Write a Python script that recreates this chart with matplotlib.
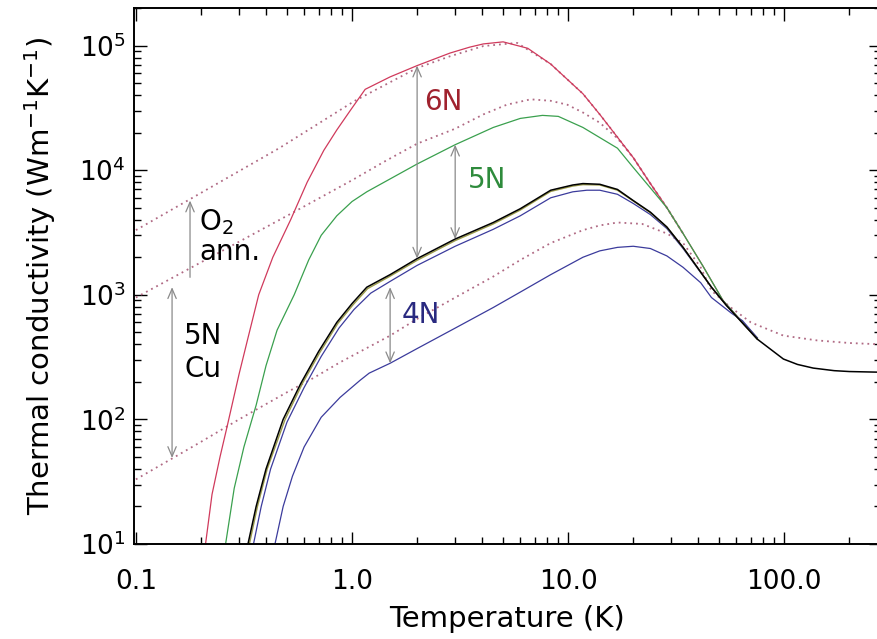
import numpy as np
import matplotlib.pyplot as plt
from matplotlib.ticker import FixedLocator, FixedFormatter, LogLocator, NullFormatter

# temperature (K) and thermal conductivity (W/m/K)

# 6N copper, solid red
T_6n = [0.21, 0.225, 0.245, 0.264, 0.30, 0.33, 0.37, 0.43, 0.52, 0.62, 0.74, 0.85, 0.98, 1.15,
        1.5, 2.0, 2.84, 3.5, 4.05, 5.0, 6.5, 8.3, 11.7, 14, 20, 24, 28.6, 34, 42, 52, 62, 75]
k_6n = [10, 25, 50, 87, 230, 450, 1000, 2000, 4000, 8000, 14400, 21000, 30000, 44500,
        56000, 69000, 87000, 97000, 103000, 107000, 95000, 71000, 41000, 28000, 12600, 7800, 5000, 3100, 1700, 900, 640, 450]

# 5N copper, solid green
T_5n = [0.26, 0.285, 0.316, 0.36, 0.40, 0.45, 0.54, 0.63, 0.72, 0.85, 1.0, 1.17,
        2.0, 3.0, 4.5, 6.0, 7.6, 9.0, 11.7, 16.9, 20, 24, 28.6, 34, 42, 52, 62, 75]
k_5n = [10, 28, 60, 130, 270, 520, 1000, 1900, 3000, 4300, 5600, 6700,
        11200, 16000, 22000, 26000, 27500, 27000, 22000, 15000, 10500, 7200, 5000, 3100, 1700, 900, 640, 450]

# 5N Cu reference, solid black (continues to room temperature)
T_ref = [0.33, 0.36, 0.40, 0.48, 0.58, 0.70, 0.85, 1.0, 1.17, 1.5, 2.0, 3.0, 4.5, 6.0, 8.3,
         10.5, 11.7, 14, 16.9, 20, 24, 28.6, 34, 46, 54, 75, 99, 115, 136, 170, 200, 280]
k_ref = [10, 20, 40, 100, 195, 350, 600, 850, 1150, 1450, 1950, 2800, 3800, 4900, 6900,
         7600, 7800, 7700, 7000, 5700, 4600, 3500, 2400, 1150, 820, 440, 305, 276, 258, 246, 242, 239]

# companion curve just under the black one, olive
T_olv = [0.335, 0.365, 0.405, 0.49, 0.59, 0.71, 0.86, 1.01, 1.18, 1.5, 2.0, 3.0, 4.5, 6.0, 8.3,
         10.5, 11.7, 14, 16.9, 20, 24, 28.6, 34, 46, 54, 75]
k_olv = [10, 20, 40, 100, 195, 345, 590, 830, 1120, 1410, 1890, 2720, 3700, 4780, 6750,
         7450, 7650, 7600, 6900, 5650, 4550, 3480, 2400, 1150, 820, 440]

# upper blue, just below the black one
T_b1 = [0.35, 0.38, 0.42, 0.50, 0.60, 0.72, 0.87, 1.02, 1.22, 1.5, 2.0, 3.0, 4.5, 6.0, 8.3,
        10.5, 12.2, 14, 16.9, 20, 24, 28.6, 34, 46, 54, 75]
k_b1 = [10, 20, 40, 95, 180, 320, 540, 760, 1030, 1280, 1720, 2450, 3350, 4300, 6000,
        6700, 6900, 6900, 6400, 5400, 4400, 3400, 2350, 1150, 820, 440]

# 4N copper, solid blue
T_4n = [0.44, 0.48, 0.53, 0.60, 0.72, 0.88, 1.09, 1.2, 1.5, 2.0, 3.0, 4.5, 6.0, 8.3,
        11.7, 14, 16.9, 20, 24, 28.6, 34, 41, 46, 57, 64, 75]
k_4n = [10, 20, 35, 60, 104, 150, 206, 235, 282, 370, 540, 790, 1050, 1450,
        2000, 2250, 2400, 2450, 2350, 2050, 1660, 1250, 950, 710, 620, 450]

# O2 annealed curves, dotted
T_ann6 = [0.1, 0.46, 1.03, 2.0, 2.84, 4.05, 5.8, 8.3, 11.7, 14, 20, 24, 28.6, 34]
k_ann6 = [3300, 15000, 36000, 66000, 82000, 99000, 105000, 71000, 41000, 28000, 12600, 7800, 5000, 3100]

T_ann5 = [0.1, 0.5, 1.0, 1.41, 2.0, 3.0, 4.05, 5.2, 6.7, 8.3, 9.9, 11.7, 14, 16.9, 20, 24, 28.6, 34]
k_ann5 = [950, 4300, 8300, 11700, 16300, 21500, 28000, 33500, 37000, 36000, 33500, 29000, 24000, 18000, 12600, 7800, 5000, 3100]

T_ann4 = [0.1, 0.2, 0.3, 0.5, 0.66, 0.88, 1.5, 2.0, 3.0, 4.5, 6.0, 8.3, 11.7, 14, 16.9, 22,
          28.6, 34, 41, 46, 56, 70, 99, 142, 200, 280]
k_ann4 = [33, 66, 100, 165, 214, 287, 470, 640, 950, 1400, 1900, 2600, 3300, 3600, 3800, 3700,
          3100, 2600, 1660, 1080, 800, 600, 470, 430, 410, 400]

# arrows: (T, k_start, k_end)
arrows = [(2.0, 69000, 1950), (3.0, 16000, 2800), (1.5, 1150, 282), (0.147, 1150, 49)]
o2_arrow = (0.178, 1380, 5700)

x_ticks = [0.1, 1.0, 10.0, 100.0]
x_tick_labels = ['0.1', '1.0', '10.0', '100.0']

red = '#d03a5c'
green = '#3aa04e'
blue = '#3b3b9c'
dotc = '#b06a84'
grey = '#8a8a8a'

fig = plt.figure(figsize=(8.78, 6.39), dpi=100)
ax = fig.add_axes([134 / 878, 1 - 544 / 639, (881 - 134) / 878, (544 - 8) / 639])

ax.plot(T_ann6, k_ann6, color=dotc, lw=1.3, ls=(0, (1, 2.2)))
ax.plot(T_ann5, k_ann5, color=dotc, lw=1.3, ls=(0, (1, 2.2)))
ax.plot(T_ann4, k_ann4, color=dotc, lw=1.3, ls=(0, (1, 2.2)))

ax.plot(T_6n, k_6n, color=red, lw=0.9)
ax.plot(T_5n, k_5n, color=green, lw=0.9)
ax.plot(T_4n, k_4n, color=blue, lw=0.9)
ax.plot(T_b1, k_b1, color=blue, lw=0.9)
ax.plot(T_olv, k_olv, color='#9a9a48', lw=1.0)
ax.plot(T_ref, k_ref, color='black', lw=1.1)

for t, k0, k1 in arrows:
    ax.annotate('', xy=(t, k1), xytext=(t, k0),
                arrowprops=dict(arrowstyle='<->,head_length=0.7,head_width=0.3', color=grey, lw=0.9,
                                shrinkA=0, shrinkB=0))
ax.annotate('', xy=(o2_arrow[0], o2_arrow[2]), xytext=(o2_arrow[0], o2_arrow[1]),
            arrowprops=dict(arrowstyle='->,head_length=0.7,head_width=0.3', color=grey, lw=0.9,
                            shrinkA=0, shrinkB=0))

ax.text(2.15, 35000, '6N', color='#a0222e', fontsize=20, va='center', ha='left')
ax.text(3.44, 8300, '5N', color='#2e8b3c', fontsize=20, va='center', ha='left')
ax.text(1.70, 690, '4N', color='#2a2a80', fontsize=20, va='center', ha='left')
ax.text(0.196, 3800, 'O$_2$', fontsize=20, va='center', ha='left')
ax.text(0.196, 2200, 'ann.', fontsize=20, va='center', ha='left')
ax.text(0.167, 470, '5N', fontsize=20, va='center', ha='left')
ax.text(0.167, 256, 'Cu', fontsize=20, va='center', ha='left')

ax.set_xscale('log')
ax.set_yscale('log')
ax.set_xlim(0.098, 280)
ax.set_ylim(10, 2e5)

ax.xaxis.set_major_locator(FixedLocator(x_ticks))
ax.xaxis.set_major_formatter(FixedFormatter(x_tick_labels))
ax.xaxis.set_minor_locator(LogLocator(subs=np.arange(2, 10)))
ax.xaxis.set_minor_formatter(NullFormatter())
ax.yaxis.set_minor_locator(LogLocator(subs=np.arange(2, 10)))
ax.yaxis.set_minor_formatter(NullFormatter())

ax.tick_params(which='both', direction='in', top=True, right=True, width=1.0)
ax.tick_params(which='major', length=9, labelsize=19)
ax.tick_params(which='minor', length=5)
ax.tick_params(axis='x', pad=18)
ax.tick_params(axis='y', pad=6)
for s in ax.spines.values():
    s.set_linewidth(1.4)

ax.set_xlabel('Temperature (K)', fontsize=21, labelpad=7)
ax.set_ylabel('Thermal conductivity (Wm$^{-1}$K$^{-1}$)', fontsize=21, labelpad=15)

fig.savefig('out.png', dpi=100)
